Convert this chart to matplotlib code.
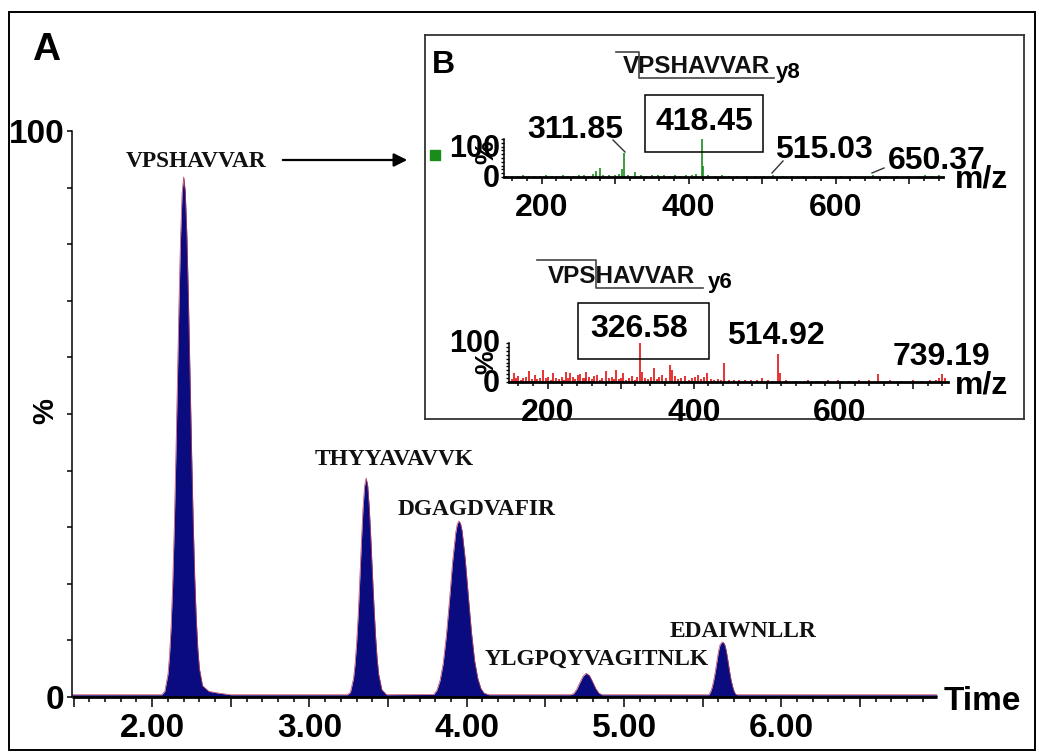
import numpy as np
import matplotlib.pyplot as plt
from matplotlib.patches import Rectangle, FancyArrowPatch
from matplotlib.lines import Line2D
from matplotlib.ticker import MultipleLocator

# chromatogram (A): retention time (min) / relative intensity (%)
baseline_t = [1.49, 6.99]
baseline_i = [0.4, 0.4]
vps_t = [2.06, 2.08, 2.10, 2.11, 2.12, 2.13, 2.14, 2.15, 2.16, 2.17, 2.18, 2.19, 2.20,
         2.21, 2.22, 2.23, 2.24, 2.25, 2.26, 2.27, 2.28, 2.29, 2.30, 2.32, 2.36, 2.42, 2.50]
vps_i = [0.4, 1.0, 4.0, 7.3, 12.4, 19.9, 29.8, 42.1, 55.7, 69.4, 81.1, 89.1, 91.9,
         89.4, 81.8, 70.5, 57.2, 43.8, 31.5, 21.4, 13.8, 8.5, 5.0, 2.0, 1.0, 0.7, 0.4]
thyy_t = [3.24, 3.26, 3.28, 3.29, 3.30, 3.31, 3.32, 3.33, 3.34, 3.35, 3.36, 3.37, 3.38,
          3.39, 3.40, 3.41, 3.42, 3.43, 3.44, 3.46, 3.49]
thyy_i = [0.4, 0.8, 3.3, 5.9, 9.7, 14.7, 20.9, 27.4, 33.2, 37.2, 38.7, 37.4, 33.5,
          28.0, 21.8, 16.0, 10.8, 6.8, 4.0, 1.3, 0.4]
dgag_t = [3.79, 3.81, 3.83, 3.85, 3.87, 3.89, 3.91, 3.93, 3.94, 3.95, 3.96, 3.97, 3.99,
          4.01, 4.03, 4.05, 4.07, 4.09, 4.11, 4.14]
dgag_i = [0.45, 1.2, 2.9, 5.9, 10.8, 17.1, 23.9, 29.1, 30.6, 31.1, 30.7, 29.4, 24.4,
          17.8, 11.4, 6.4, 3.3, 1.5, 0.7, 0.4]
ylg_t = [4.64, 4.66, 4.68, 4.70, 4.72, 4.74, 4.76, 4.78, 4.80, 4.82, 4.84, 4.86, 4.88]
ylg_i = [0.4, 0.4, 0.6, 1.4, 2.6, 3.7, 4.2, 3.8, 2.7, 1.5, 0.7, 0.4, 0.4]
edai_t = [5.54, 5.55, 5.56, 5.57, 5.58, 5.59, 5.60, 5.61, 5.62, 5.63, 5.64, 5.65, 5.66,
          5.67, 5.68, 5.69, 5.70, 5.71, 5.72]
edai_i = [0.4, 0.9, 1.7, 2.9, 4.4, 6.2, 8.0, 9.2, 9.6, 9.7, 9.3, 8.2, 6.5,
          4.7, 3.1, 1.9, 1.0, 0.5, 0.4]

peptides = ['VPSHAVVAR', 'THYYAVAVVK', 'DGAGDVAFIR', 'YLGPQYVAGITNLK', 'EDAIWNLLR']

# MS/MS spectra (B): m/z / relative intensity (%)
green_mz = [152, 160, 168, 175, 183, 190, 198, 206, 214, 221,
            229, 236, 244, 251, 258, 265, 270, 274, 279.6, 284,
            292, 300, 306, 309, 311.85, 318, 327, 335, 342, 350,
            358, 366, 374, 381, 389, 396, 404, 410, 418.45, 420,
            427, 436, 445, 455, 466, 478, 490, 503, 515.03, 528,
            541, 556, 572, 589, 607, 626, 650.37, 668, 684, 699,
            712, 722, 731, 740]
green_int = [2, 3, 2, 4, 3, 2, 3, 4, 2, 3,
             4, 3, 2, 5, 4, 3, 7, 15, 24, 6,
             4, 5, 8, 21, 63, 5, 13, 4, 3, 5,
             6, 4, 3, 5, 3, 4, 6, 9, 100, 28,
             5, 3, 4, 2, 3, 2, 3, 2, 5, 2,
             3, 2, 2, 3, 2, 2, 4, 2, 3, 2,
             3, 4, 3, 4]
red_mz = [151, 154, 156, 159, 163, 166, 170, 175, 178, 182,
          186, 190, 193, 197, 201, 205, 207, 211, 215, 219,
          222, 225, 228, 230, 234, 238, 241, 244, 248, 251,
          253, 257, 261, 264, 267, 271, 275, 280, 284, 288,
          291, 294, 298, 301, 303, 307, 311, 315, 319, 322,
          326.58, 329, 333, 337, 341, 345, 349, 353, 357, 362,
          367, 370, 374, 378, 383, 388, 393, 398, 402, 406,
          410, 414, 418, 423, 428, 433, 437, 442, 448, 455,
          462, 470, 478, 486, 493, 502, 508, 514.92, 518, 526,
          540, 556, 570, 584, 598, 612, 626, 640, 652, 668,
          684, 700, 712, 724, 731, 736, 739.19, 744]
red_int = [8, 23, 10, 15, 6, 9, 12, 27, 8, 19,
           7, 11, 32, 9, 14, 6, 23, 10, 7, 12,
           5, 25, 9, 23, 14, 8, 17, 20, 11, 9,
           25, 12, 7, 15, 19, 6, 10, 27, 9, 13,
           7, 30, 8, 11, 23, 6, 9, 15, 5, 12,
           100, 25, 10, 7, 14, 36, 8, 12, 19, 9,
           44, 32, 16, 7, 11, 15, 6, 9, 13, 19,
           7, 12, 23, 8, 5, 7, 4, 49, 6, 5,
           4, 5, 4, 6, 10, 4, 3, 72, 23, 6,
           3, 4, 3, 4, 6, 3, 6, 4, 20, 4,
           3, 4, 3, 4, 6, 10, 20, 10]
green_labels = [311.85, 418.45, 515.03, 650.37]
red_labels = [326.58, 514.92, 739.19]

W, H = 1039, 753
SANS = 'Liberation Sans'
SERIF = 'Liberation Serif'


def fx(x):
    return x / W


def fy(y):
    return 1 - y / H


def ftext(x, y, s, **kw):
    kw.setdefault('family', SANS)
    kw.setdefault('weight', 'bold')
    kw.setdefault('zorder', 10)
    return fig.text(fx(x), fy(y), s, **kw)


def fline(xs, ys, color='#444444', lw=1.2):
    fig.add_artist(Line2D([fx(v) for v in xs], [fy(v) for v in ys], color=color,
                          lw=lw, transform=fig.transFigure, zorder=10))


def fbox(x0, y0, x1, y1, lw=1.1):
    fig.add_artist(Rectangle((fx(x0), fy(y1)), (x1 - x0) / W, (y1 - y0) / H, fill=False,
                             lw=lw, edgecolor='black', transform=fig.transFigure, zorder=10))


fig = plt.figure(figsize=(W / 100, H / 100), dpi=100)

# ---- panel A ----
ax = fig.add_axes([fx(72), fy(697), (937 - 72) / W, (697 - 131) / H])
time = np.concatenate([baseline_t[:1], vps_t, thyy_t, dgag_t, ylg_t, edai_t, baseline_t[1:]])
inten = np.concatenate([baseline_i[:1], vps_i, thyy_i, dgag_i, ylg_i, edai_i, baseline_i[1:]])
ax.fill_between(time, 0, inten, color='#0b0b80', lw=0)
ax.plot(time, inten, color='#c84058', lw=0.5)
ax.set_xlim(1.49, 6.99)
ax.set_ylim(0, 100)
ax.patch.set_alpha(0)
for s in ['top', 'right']:
    ax.spines[s].set_visible(False)
ax.spines['left'].set_linewidth(1.1)
ax.spines['bottom'].set_linewidth(2.0)
ax.spines['bottom'].set_capstyle('butt')

xmaj = np.arange(1.5, 6.51, 0.5)
ax.set_xticks(xmaj)
ax.set_xticklabels([f'{v:.2f}' if v % 1 == 0 else '' for v in xmaj])
ax.xaxis.set_minor_locator(MultipleLocator(0.1))
ax.tick_params(axis='x', which='major', length=7.2, width=1.1, pad=4.3, labelsize=24)
ax.tick_params(axis='x', which='minor', length=3.6, width=1.1)
ax.set_yticks(np.arange(0, 101, 10))
ax.set_yticklabels(['0'] + [''] * 9 + ['100'])
ax.tick_params(axis='y', length=3.6, width=1.1, pad=2, labelsize=24)
for lbl in ax.get_xticklabels() + ax.get_yticklabels():
    lbl.set_fontweight('bold')
    lbl.set_family(SANS)

ftext(45, 411, '%', size=21, rotation=90, ha='center', va='center')
ftext(944, 710, 'Time', size=24, ha='left', va='baseline')
ftext(32, 60, 'A', size=28, ha='left', va='baseline')

pep_pos = [(196, 167), (394, 465), (477, 515), (597, 665), (743, 637)]
for name, (px, py) in zip(peptides, pep_pos):
    ftext(px, py, name, family=SERIF, size=16.8, ha='center', va='baseline', color='#111111')

fig.add_artist(FancyArrowPatch((fx(280), fy(160)), (fx(410), fy(160)), arrowstyle='-|>',
                               mutation_scale=20, lw=1.6, color='black',
                               transform=fig.transFigure, zorder=10))

# ---- panel B frame ----
frame = fig.add_axes([fx(425), fy(419), (1024 - 425) / W, (419 - 35) / H], zorder=5)
frame.set_xticks([])
frame.set_yticks([])
for s in frame.spines.values():
    s.set_linewidth(1.3)
    s.set_edgecolor('#333333')
ftext(432, 73, 'B', size=23, ha='left', va='baseline')


def spectrum(left, right, y0, y100, mz, inten, color, xlim):
    sx = fig.add_axes([fx(left), fy(y0), (right - left) / W, (y0 - y100) / H], zorder=6)
    sx.patch.set_alpha(0)
    sx.vlines(mz, 0, inten, color=color, lw=1.2)
    sx.set_xlim(*xlim)
    sx.set_ylim(0, 100)
    for s in ['top', 'right']:
        sx.spines[s].set_visible(False)
    sx.spines['left'].set_linewidth(1.1)
    sx.spines['bottom'].set_linewidth(2.0)
    sx.set_xticks(np.arange(200, 701, 100))
    sx.set_xticklabels(['200', '', '400', '', '600', ''])
    sx.xaxis.set_minor_locator(MultipleLocator(20))
    sx.tick_params(axis='x', which='major', length=5, width=1.1, pad=6.5, labelsize=23)
    sx.tick_params(axis='x', which='minor', length=2.9, width=1.1)
    sx.set_yticks(np.arange(0, 101, 10))
    sx.set_yticklabels([])
    sx.tick_params(axis='y', length=2.2, width=1.0)
    for lbl in sx.get_xticklabels():
        lbl.set_fontweight('bold')
        lbl.set_family(SANS)
    return sx


gx = spectrum(504, 943, 177, 139, green_mz, green_int, '#1e8c1e', (149, 746))
rx = spectrum(509, 948, 382, 343, red_mz, red_int, '#e01010', (147, 748))

# y labels of the spectra
for y100, y0, pc in [(157, 187, 152), (352, 392, 362)]:
    ftext(500, y100, '100', size=22, ha='right', va='baseline')
    ftext(500, y0, '0', size=22, ha='right', va='baseline')
    ftext(486, pc, '%', size=19, rotation=90, ha='center', va='center')
ftext(955, 188, 'm/z', size=23, ha='left', va='baseline')
ftext(955, 393, 'm/z', size=23, ha='left', va='baseline')
fig.add_artist(Rectangle((fx(430), fy(160)), 10 / W, 10 / H, color='#1a8c1a',
                         transform=fig.transFigure, zorder=10))

# peak labels in the spectra
g_pos = [(575, 138), (704, 130), (824, 158), (937, 169)]
for val, (px, py) in zip(green_labels, g_pos):
    ftext(px, py, f'{val:.2f}', size=23, ha='center', va='baseline')
r_pos = [(639, 337), (776, 344), (941, 365)]
for val, (px, py) in zip(red_labels, r_pos):
    ftext(px, py, f'{val:.2f}', size=23, ha='center', va='baseline')
fbox(645, 95, 763, 152)
fbox(578, 303, 709, 359)
fline([613, 625], [140, 152], color='#333333', lw=1.0)
fline([783, 772], [161, 173], color='#333333', lw=1.0)
fline([884, 872], [168, 173], color='#333333', lw=1.0)

# fragment annotations
ftext(696, 73, 'VPSHAVVAR', size=17.5, ha='center', va='baseline', color='#111111')
ftext(776, 78, 'y8', size=16, ha='left', va='baseline')
fline([616, 639, 639, 774], [52, 52, 78, 78])
ftext(621, 283, 'VPSHAVVAR', size=17.5, ha='center', va='baseline', color='#111111')
ftext(708, 288, 'y6', size=16, ha='left', va='baseline')
fline([537, 596, 596, 703], [260, 260, 288, 288])

# outer border
fbox(9, 12, 1035, 750, lw=1.4)

fig.savefig('out.png', dpi=100)
